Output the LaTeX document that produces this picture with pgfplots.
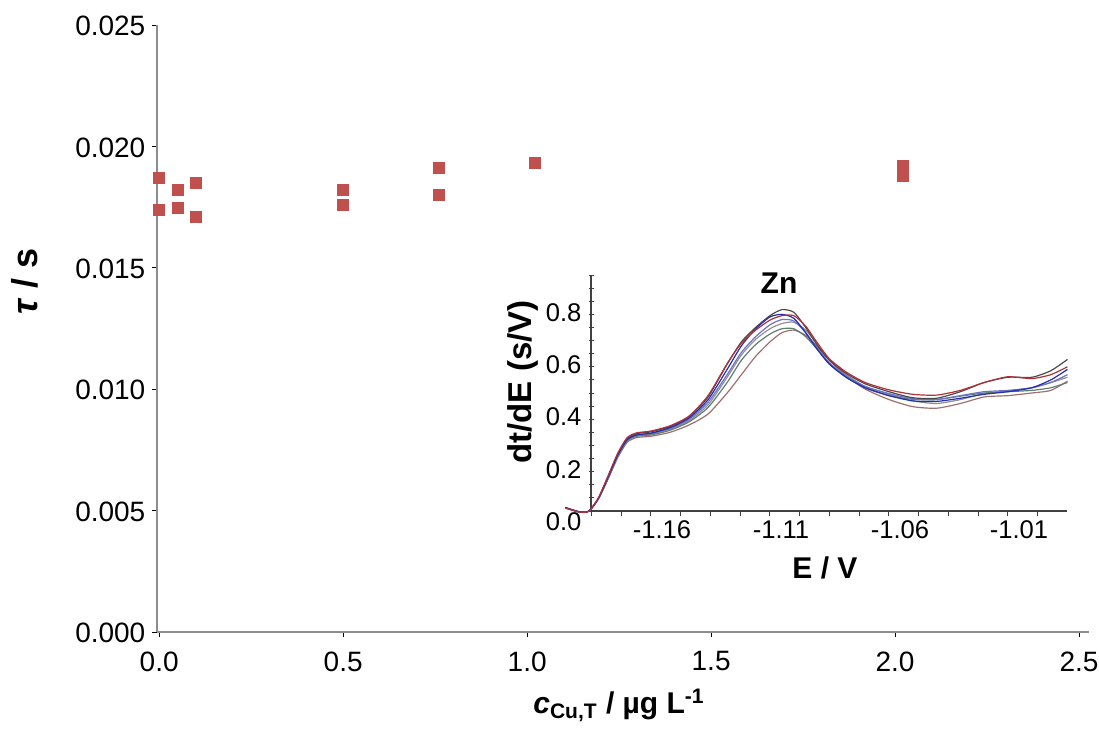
\documentclass[border=0pt]{standalone}
\usepackage{fontspec}
\setmainfont{Liberation Sans}
\usepackage{pgfplots}
\pgfplotsset{compat=1.18}
\definecolor{mk}{HTML}{C0504D}
\definecolor{axgray}{HTML}{8C8C8C}
\definecolor{cblack}{HTML}{4A4A4A}
\definecolor{cred}{HTML}{B0303A}
\definecolor{cblue}{HTML}{2030B0}
\definecolor{clav}{HTML}{7070C8}
\definecolor{cgreen}{HTML}{5F7F6F}
\definecolor{cbrown}{HTML}{A07070}
\definecolor{cgray}{HTML}{909090}

\begin{document}
\begin{tikzpicture}
% main scatter
\begin{axis}[
  scale only axis, width=466pt, height=303.5pt,
  at={(0pt,0pt)}, anchor=south west,
  xmin=-0.006, xmax=2.527, ymin=0, ymax=0.025,
  axis x line*=bottom, axis y line*=left,
  axis line style={axgray, line width=1pt, -},
  xtick={0,0.5,1,1.5,2,2.5},
  ytick={0,0.005,0.01,0.015,0.02,0.025},
  scaled y ticks=false,
  xticklabel style={/pgf/number format/fixed, /pgf/number format/fixed zerofill, /pgf/number format/precision=1, yshift=-4pt},
  yticklabel style={/pgf/number format/fixed, /pgf/number format/fixed zerofill, /pgf/number format/precision=3, yshift=-0.5pt},
  /pgf/number format/assume math mode=true,
  tick label style={font=\fontsize{14}{16}\selectfont},
  tick align=outside, major tick length=2.3pt,
  tick style={black, line width=0.5pt},
  xlabel={\textbf{\textit{c}\textsubscript{Cu,T} / µg L\textsuperscript{-1}}},
  xlabel style={at={(axis description cs:0.4957,-0.1203)}, anchor=center, font=\fontsize{15}{17}\selectfont},
  ylabel={\textbf{\textit{τ} / s}},
  ylabel style={at={(axis description cs:-0.1416,0.577)}, anchor=center, font=\fontsize{18}{20}\selectfont},
]
\addplot[only marks, mark=square*, mark size=2.75pt, color=mk] coordinates {
(0.00, 0.0187) (0.00, 0.0174)
(0.05, 0.0182) (0.05, 0.01746)
(0.10, 0.0185) (0.10, 0.0171)
(0.50, 0.0182) (0.50, 0.0176)
(0.76, 0.0191) (0.76, 0.0180)
(1.02, 0.0193)
(2.02, 0.0192) (2.02, 0.0188)
};
\end{axis}

% inset
\pgfplotstableread{
x      k      r      b      l      g      w      y
-1.196 0.012  0.012  0.014  0.013  0.012  0.012  0.012
-1.190 -0.004 -0.004 -0.003 -0.004 -0.004 -0.004 -0.004
-1.186 0.0    0.0    0.0    0.0    0.0    0.0    0.0
-1.182 0.050  0.052  0.050  0.050  0.048  0.047  0.049
-1.178 0.130  0.135  0.130  0.128  0.125  0.122  0.127
-1.174 0.215  0.220  0.213  0.210  0.207  0.203  0.210
-1.170 0.276  0.280  0.272  0.270  0.267  0.262  0.270
-1.166 0.295  0.298  0.290  0.290  0.285  0.280  0.288
-1.160 0.302  0.305  0.297  0.296  0.290  0.285  0.293
-1.152 0.322  0.325  0.318  0.315  0.308  0.300  0.312
-1.144 0.360  0.362  0.355  0.350  0.340  0.328  0.345
-1.136 0.435  0.440  0.425  0.415  0.395  0.370  0.405
-1.128 0.560  0.562  0.540  0.520  0.490  0.450  0.510
-1.122 0.645  0.640  0.630  0.605  0.575  0.520  0.595
-1.116 0.700  0.690  0.695  0.665  0.635  0.590  0.655
-1.110 0.745  0.728  0.740  0.710  0.675  0.645  0.695
-1.105 0.768  0.745  0.750  0.730  0.695  0.680  0.715
-1.100 0.758  0.745  0.735  0.725  0.695  0.690  0.720
-1.095 0.700  0.705  0.680  0.680  0.665  0.670  0.690
-1.090 0.630  0.640  0.615  0.620  0.615  0.625  0.635
-1.085 0.575  0.580  0.560  0.565  0.560  0.575  0.575
-1.078 0.525  0.530  0.510  0.515  0.510  0.515  0.520
-1.070 0.485  0.490  0.470  0.475  0.470  0.465  0.475
-1.060 0.455  0.462  0.440  0.448  0.440  0.425  0.445
-1.050 0.432  0.445  0.420  0.428  0.426  0.398  0.420
-1.040 0.430  0.442  0.418  0.425  0.425  0.392  0.410
-1.030 0.455  0.460  0.430  0.440  0.438  0.410  0.425
-1.020 0.490  0.490  0.445  0.455  0.450  0.435  0.448
-1.010 0.510  0.512  0.455  0.460  0.455  0.440  0.458
-1.000 0.510  0.505  0.470  0.470  0.460  0.450  0.470
-0.992 0.535  0.520  0.500  0.490  0.470  0.460  0.490
-0.985 0.578  0.550  0.540  0.520  0.490  0.495  0.510
}\zncurves

\begin{axis}[
  at={(217pt,60.5pt)}, anchor=south west,
  scale only axis, width=238pt, height=118pt,
  xmin=-1.1852, xmax=-0.9852, ymin=0, ymax=0.9,
  axis x line*=bottom, axis y line*=left,
  axis line style={black!75, line width=0.6pt, -},
  clip=false,
  xtick={-1.16,-1.11,-1.06,-1.01},
  minor xtick={-1.185,-1.1725,-1.1475,-1.135,-1.1225,-1.0975,-1.085,-1.0725,-1.0475,-1.035,-1.0225,-0.9975,-0.985},
  ytick={0,0.2,0.4,0.6,0.8},
  minor ytick={0.05,0.1,0.15,0.25,0.3,0.35,0.45,0.5,0.55,0.65,0.7,0.75,0.85,0.9},
  xticklabel style={/pgf/number format/fixed, /pgf/number format/fixed zerofill, /pgf/number format/precision=2, xshift=5.5pt, yshift=1pt},
  yticklabel style={/pgf/number format/fixed, /pgf/number format/fixed zerofill, /pgf/number format/precision=1, yshift=-5.5pt},
  /pgf/number format/assume math mode=true,
  tick label style={font=\fontsize{12.8}{14}\selectfont},
  x tick style={black!75, line width=0.5pt},
  y tick style={black!75, line width=0.5pt},
  xtick align=outside, ytick align=center,
  major tick length=2.5pt, minor tick length=2.5pt,
  xlabel={\textbf{E / V}},
  xlabel style={at={(axis description cs:0.4916,-0.2415)}, anchor=center, font=\fontsize{15}{17}\selectfont},
  ylabel={\textbf{dt/dE (s/V)}},
  ylabel style={at={(axis description cs:-0.1429,0.5466)}, anchor=center, font=\fontsize{16.5}{18}\selectfont},
  every axis plot/.append style={smooth, line width=0.6pt, tension=0.4},
]
\addplot[cgray]  table[x=x, y=y] {\zncurves};
\addplot[cbrown] table[x=x, y=w] {\zncurves};
\addplot[cgreen] table[x=x, y=g] {\zncurves};
\addplot[clav]   table[x=x, y=l] {\zncurves};
\addplot[cblack] table[x=x, y=k] {\zncurves};
\addplot[cblue]  table[x=x, y=b] {\zncurves};
\addplot[cred]   table[x=x, y=r] {\zncurves};
\node[font=\fontsize{15}{17}\selectfont\bfseries] at (rel axis cs:0.395,0.966) {Zn};
\end{axis}
\pgfresetboundingbox
\path (-78.5pt,-48.5pt) rectangle (471pt,316pt);
\end{tikzpicture}
\end{document}
